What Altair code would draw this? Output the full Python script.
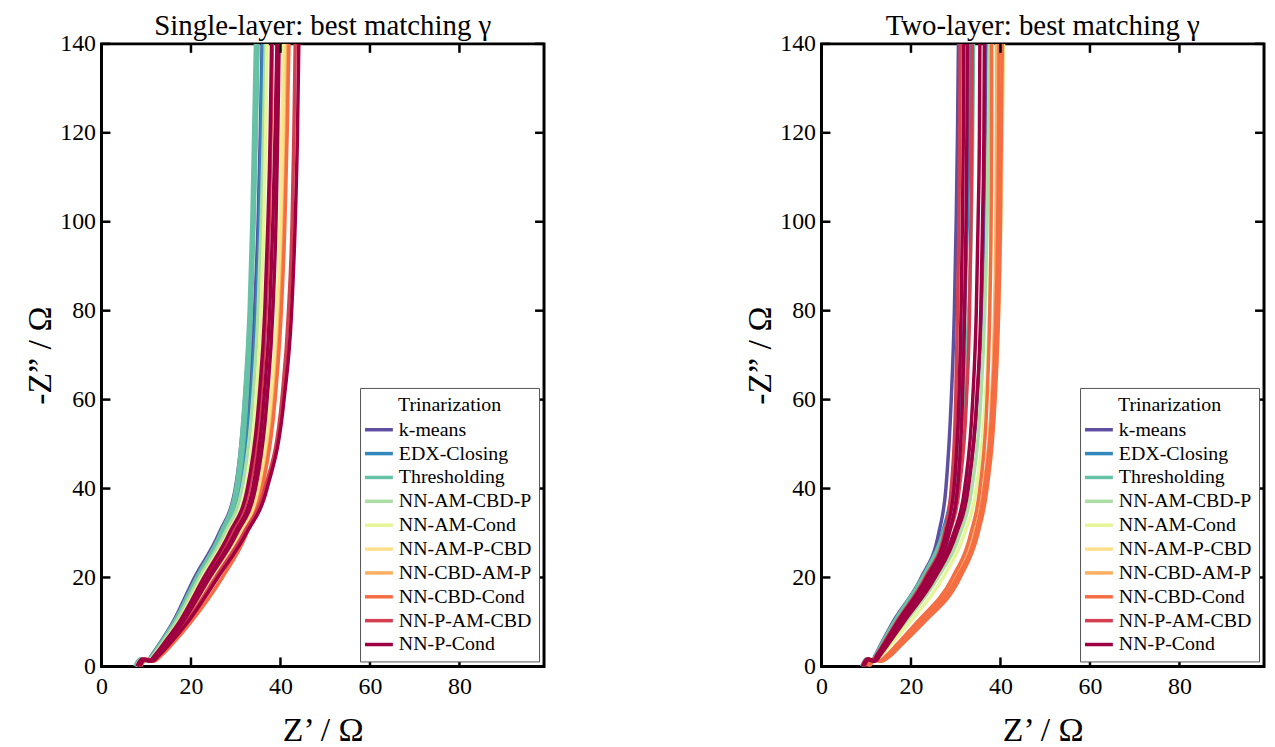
import altair as alt
import pandas as pd

# Shared Z'' grid along each curve (start of the small arc, then the diffusion tail)
Y_GRID = [0, 1.6, 1.2, 2.5, 5, 10, 20, 30, 40, 60, 80, 100, 120, 140]

METHODS = ["k-means", "EDX-Closing", "Thresholding", "NN-AM-CBD-P", "NN-AM-Cond",
           "NN-AM-P-CBD", "NN-CBD-AM-P", "NN-CBD-Cond", "NN-P-AM-CBD", "NN-P-Cond"]
COLORS = ["#5e4fa2", "#3288bd", "#66c2a5", "#abdda4", "#e6f598",
          "#fee08b", "#fdae61", "#f46d43", "#d53e4f", "#9e0142"]

Y_TICKS = [0, 20, 40, 60, 80, 100, 120, 140]
X_TICKS = [0, 20, 40, 60, 80]

# Z' values of each curve at the Y_GRID levels
SINGLE_CURVES = [
    ("k-means",      [7.5, 8.6, 10.2, 11.2, 12.9, 16.0, 20.8, 26.3, 29.9, 32.0, 33.2, 34.0, 34.5, 34.9]),
    ("k-means",      [7.6, 8.7, 10.3, 11.4, 13.1, 16.3, 21.3, 27.0, 30.6, 32.9, 34.2, 35.0, 35.5, 35.9]),
    ("EDX-Closing",  [7.7, 8.8, 10.4, 11.5, 13.3, 16.5, 21.5, 27.3, 31.0, 33.4, 34.6, 35.3, 35.7, 36.0]),
    ("Thresholding", [7.5, 8.6, 10.2, 11.3, 13.0, 16.2, 21.2, 26.6, 30.0, 31.9, 33.0, 33.6, 34.0, 34.4]),
    ("Thresholding", [7.6, 8.7, 10.3, 11.4, 13.2, 16.4, 21.5, 27.0, 30.5, 32.5, 33.5, 34.1, 34.6, 35.0]),
    ("NN-AM-CBD-P",  [7.8, 8.9, 10.5, 11.6, 13.4, 16.7, 21.9, 27.6, 31.4, 33.8, 35.0, 35.7, 36.2, 36.6]),
    ("NN-AM-Cond",   [7.9, 9.0, 10.6, 11.8, 13.7, 17.2, 22.5, 28.3, 32.3, 34.6, 35.7, 36.3, 36.7, 37.0]),
    ("NN-AM-Cond",   [8.3, 9.4, 11.1, 12.4, 14.5, 18.3, 24.3, 30.5, 34.8, 37.8, 39.2, 39.9, 40.3, 40.6]),
    ("NN-AM-P-CBD",  [8.4, 9.5, 11.2, 12.6, 14.8, 18.7, 24.8, 31.0, 35.3, 38.2, 39.6, 40.3, 40.7, 41.0]),
    ("NN-CBD-AM-P",  [8.6, 9.7, 11.5, 13.0, 15.3, 19.3, 25.8, 31.8, 35.8, 38.6, 40.0, 40.8, 41.3, 41.6]),
    ("NN-CBD-Cond",  [8.8, 10.0, 11.8, 13.4, 15.8, 20.0, 27.0, 32.5, 35.9, 38.8, 40.2, 41.0, 41.5, 41.9]),
    ("NN-P-AM-CBD",  [8.0, 9.1, 10.8, 12.0, 14.0, 17.6, 23.2, 29.0, 33.0, 35.6, 36.8, 37.5, 37.9, 38.2]),
    ("NN-P-AM-CBD",  [8.5, 9.6, 11.3, 12.8, 15.0, 19.0, 25.5, 31.8, 36.5, 40.3, 41.8, 42.6, 43.0, 43.3]),
    ("NN-P-Cond",    [7.9, 9.0, 10.7, 11.9, 13.8, 17.4, 22.9, 28.6, 32.6, 35.2, 36.5, 37.2, 37.7, 38.0]),
    ("NN-P-Cond",    [8.1, 9.2, 10.9, 12.2, 14.3, 18.0, 23.8, 29.8, 33.8, 36.3, 37.6, 38.3, 38.8, 39.2]),
    ("NN-P-Cond",    [8.2, 9.3, 11.0, 12.3, 14.4, 18.2, 24.2, 30.3, 34.4, 37.0, 38.3, 39.0, 39.4, 39.7]),
    ("NN-P-Cond",    [8.6, 9.7, 11.4, 12.9, 15.2, 19.3, 26.0, 32.4, 37.0, 40.8, 42.5, 43.3, 43.8, 44.1]),
]

TWO_CURVES = [
    ("k-means",      [9.0, 10.0, 11.3, 12.0, 13.3, 16.0, 22.3, 26.2, 27.8, 29.0, 29.7, 30.1, 30.4, 30.6]),
    ("k-means",      [9.4, 10.4, 11.8, 12.8, 14.4, 17.8, 24.5, 29.6, 32.6, 34.8, 35.8, 36.3, 36.6, 36.8]),
    ("EDX-Closing",  [9.1, 10.1, 11.4, 12.2, 13.6, 16.4, 22.7, 27.0, 29.2, 31.0, 32.0, 32.6, 33.0, 33.3]),
    ("Thresholding", [9.0, 10.0, 11.3, 12.1, 13.4, 16.2, 22.5, 27.2, 29.8, 31.8, 32.9, 33.5, 33.8, 34.0]),
    ("NN-AM-CBD-P",  [9.5, 10.6, 12.0, 13.2, 15.0, 18.8, 26.0, 31.0, 33.6, 35.6, 36.5, 37.0, 37.3, 37.5]),
    ("NN-AM-Cond",   [9.6, 10.8, 12.3, 13.6, 15.6, 19.8, 27.2, 32.0, 34.6, 36.6, 37.5, 37.9, 38.1, 38.3]),
    ("NN-AM-P-CBD",  [10.6, 11.8, 13.3, 15.2, 17.6, 22.6, 30.6, 34.8, 36.8, 38.7, 39.6, 40.1, 40.4, 40.7]),
    ("NN-CBD-AM-P",  [10.4, 11.6, 13.1, 14.9, 17.3, 22.0, 30.0, 34.2, 36.2, 38.0, 38.7, 39.0, 39.1, 39.2]),
    ("NN-CBD-Cond",  [10.2, 11.4, 12.9, 14.6, 16.9, 21.4, 29.3, 33.4, 35.4, 37.0, 37.6, 37.9, 38.0, 38.0]),
    ("NN-CBD-Cond",  [10.5, 11.7, 13.2, 15.0, 17.5, 22.3, 30.3, 34.5, 36.4, 38.2, 39.0, 39.4, 39.6, 39.7]),
    ("NN-CBD-Cond",  [10.8, 12.0, 13.5, 15.5, 18.0, 23.0, 31.0, 35.0, 37.0, 38.8, 39.6, 40.0, 40.2, 40.4]),
    ("NN-P-AM-CBD",  [9.1, 10.1, 11.5, 12.3, 13.8, 16.8, 23.2, 27.5, 29.0, 30.0, 30.4, 30.7, 30.9, 31.0]),
    ("NN-P-AM-CBD",  [9.3, 10.3, 11.7, 12.6, 14.2, 17.3, 23.9, 28.6, 30.8, 32.4, 33.1, 33.4, 33.6, 33.7]),
    ("NN-P-Cond",    [9.2, 10.2, 11.6, 12.4, 14.0, 17.0, 23.5, 27.8, 29.6, 30.7, 31.2, 31.5, 31.7, 31.8]),
    ("NN-P-Cond",    [9.3, 10.3, 11.7, 12.6, 14.2, 17.4, 24.0, 28.5, 30.4, 31.5, 32.0, 32.3, 32.5, 32.6]),
    ("NN-P-Cond",    [9.4, 10.5, 11.9, 12.9, 14.6, 18.0, 24.8, 29.6, 32.0, 33.8, 34.6, 35.0, 35.3, 35.4]),
    ("NN-P-Cond",    [9.5, 10.6, 12.0, 13.1, 14.9, 18.4, 25.4, 30.2, 32.8, 34.7, 35.6, 36.0, 36.3, 36.4]),
]

FONT = "Liberation Serif"
H = 626
TL = 9  # inner tick length in px


def curves_df(curves):
    rows = []
    for cid, (m, xs) in enumerate(curves):
        for i, (x, y) in enumerate(zip(xs, Y_GRID)):
            rows.append({"curve": cid, "method": m, "rank": METHODS.index(m), "ord": i, "x": x, "y": y})
    return pd.DataFrame(rows).sort_values(["rank", "curve", "ord"])


def panel(curves, title, width, xmax):
    df = curves_df(curves)
    xscale = alt.Scale(domain=[0, xmax], nice=False, zero=False)
    yscale = alt.Scale(domain=[0, 140], nice=False)
    xenc = alt.X("x:Q", scale=xscale,
                 axis=alt.Axis(values=X_TICKS, title="Z’ / Ω", format="d",
                               labelPadding=8, titlePadding=16))
    yenc = alt.Y("y:Q", scale=yscale,
                 axis=alt.Axis(values=Y_TICKS, title="-Z” / Ω", format="d",
                               labelPadding=6, titlePadding=2))

    lines = alt.Chart(df).mark_line(strokeWidth=3.5, interpolate="monotone", clip=True).encode(
        x=xenc, y=yenc,
        color=alt.Color("method:N",
                        scale=alt.Scale(domain=METHODS, range=COLORS),
                        legend=alt.Legend(title="Trinarization", orient="bottom-right", offset=5,
                                          titleAnchor="middle", titleFontSize=20,
                                          titleFontWeight="normal", titleFont=FONT,
                                          titleColor="black", labelColor="black",
                                          labelFontSize=20, labelFont=FONT,
                                          symbolType="M-1.4,0L1.4,0", symbolStrokeWidth=3.5,
                                          symbolSize=400, fillColor="white",
                                          strokeColor="#555555", padding=7,
                                          rowPadding=2, labelLimit=300, titlePadding=3,
                                          labelOffset=8, cornerRadius=0)),
        detail="curve:N",
        order="ord:Q",
    )

    ydf = pd.DataFrame({"y": Y_TICKS})
    xdf = pd.DataFrame({"x": X_TICKS})
    tick_style = dict(color="black", strokeWidth=2.5)
    lt = alt.Chart(ydf).mark_rule(**tick_style).encode(y=yenc, x=alt.value(0), x2=alt.value(TL))
    rt = alt.Chart(ydf).mark_rule(**tick_style).encode(y=yenc, x=alt.value(width - TL), x2=alt.value(width))
    bt = alt.Chart(xdf).mark_rule(**tick_style).encode(x=xenc, y=alt.value(H), y2=alt.value(H - TL))
    tt = alt.Chart(xdf).mark_rule(**tick_style).encode(x=xenc, y=alt.value(0), y2=alt.value(TL))

    return alt.layer(lines, lt, rt, bt, tt).properties(
        width=width, height=H,
        title=alt.TitleParams(title, fontSize=29, fontWeight="normal", font=FONT,
                              anchor="middle", offset=-9, color="black", frame="group"),
    )


left = panel(SINGLE_CURVES, "Single-layer: best matching γ", 445, 98.9)
right = panel(TWO_CURVES, "Two-layer: best matching γ", 445, 98.9)

chart = (
    alt.hconcat(left, right, spacing=196)
    .resolve_scale(color="independent")
    .resolve_legend(color="independent")
    .properties(padding={"left": 14, "top": 0, "right": 0, "bottom": 0})
    .configure(font=FONT)
    .configure_view(stroke="black", strokeWidth=3)
    .configure_axis(grid=False, domain=False, ticks=False, tickSize=0,
                    labelFontSize=24, titleFontSize=34, titleFontWeight="normal",
                    labelFont=FONT, titleFont=FONT, labelColor="black", titleColor="black",
                    labelFlush=False)
)

chart.save("out.html", embed_options={"renderer": "svg", "actions": False})
